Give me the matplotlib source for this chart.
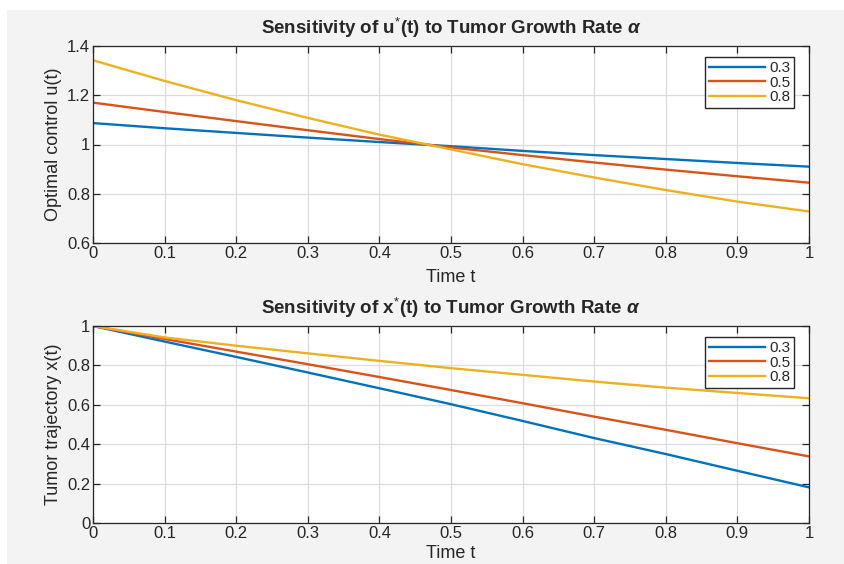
import matplotlib
matplotlib.use("Agg")
import matplotlib.pyplot as plt
from matplotlib.patches import Rectangle

t = [0.0, 0.1, 0.2, 0.3, 0.4, 0.5, 0.6, 0.7, 0.8, 0.9, 1.0]
alphas = ["0.3", "0.5", "0.8"]

u_03 = [1.087, 1.066, 1.047, 1.028, 1.010, 0.993, 0.974, 0.957, 0.941, 0.925, 0.910]
u_05 = [1.170, 1.132, 1.095, 1.058, 1.022, 0.988, 0.957, 0.927, 0.898, 0.871, 0.845]
u_08 = [1.342, 1.258, 1.180, 1.108, 1.040, 0.980, 0.920, 0.866, 0.815, 0.768, 0.728]

x_03 = [1.000, 0.921, 0.843, 0.764, 0.684, 0.603, 0.518, 0.431, 0.350, 0.265, 0.181]
x_05 = [1.000, 0.934, 0.870, 0.806, 0.741, 0.675, 0.608, 0.540, 0.473, 0.405, 0.338]
x_08 = [1.000, 0.942, 0.900, 0.861, 0.823, 0.786, 0.752, 0.718, 0.687, 0.660, 0.633]

colors = ["#0072BD", "#D95319", "#EDB120"]

plt.rcParams['font.family'] = ['Liberation Sans', 'DejaVu Sans']
plt.rcParams['mathtext.fontset'] = 'custom'
plt.rcParams['mathtext.rm'] = 'Liberation Sans'
plt.rcParams['mathtext.it'] = 'Liberation Sans:italic:bold'
plt.rcParams['mathtext.bf'] = 'Liberation Sans:bold'

W, H = 844, 564
fig = plt.figure(figsize=(W / 100, H / 100), dpi=100, facecolor="white")
fig.patches.append(Rectangle((7 / W, -0.01), 1, 1.01 - 10 / H, transform=fig.transFigure,
                             facecolor="#f3f3f3", edgecolor="none", zorder=-10))

dark = "#262626"
left, right = 93 / W, 809 / W
ax1 = fig.add_axes([left, 1 - 243 / H, right - left, (243 - 46) / H])
ax2 = fig.add_axes([left, 1 - 523 / H, right - left, (523 - 326) / H])

def style(ax):
    ax.set_facecolor("white")
    ax.set_xlim(0, 1)
    ax.set_xticks([0, 0.1, 0.2, 0.3, 0.4, 0.5, 0.6, 0.7, 0.8, 0.9, 1])
    ax.set_xticklabels(["0", "0.1", "0.2", "0.3", "0.4", "0.5", "0.6", "0.7", "0.8", "0.9", "1"])
    ax.grid(True, color="#dcdcdc", linewidth=0.9)
    ax.set_axisbelow(True)
    ax.tick_params(direction="in", top=True, right=True, length=5, width=0.9,
                   labelsize=12, colors=dark, pad=2)
    for s in ax.spines.values():
        s.set_color(dark)
        s.set_linewidth(0.9)

for ax, ys in ((ax1, (u_03, u_05, u_08)), (ax2, (x_03, x_05, x_08))):
    for y, c, lab in zip(ys, colors, alphas):
        ax.plot(t, y, color=c, linewidth=1.7, label=lab)
    style(ax)
    leg = ax.legend(loc="upper right", bbox_to_anchor=(0.979, 0.944), fontsize=11,
                    handlelength=3.7, handletextpad=0.25, borderpad=0.25,
                    labelspacing=0.05, fancybox=False, framealpha=1,
                    borderaxespad=0)
    leg.get_frame().set_edgecolor(dark)
    leg.get_frame().set_linewidth(1.0)
    for txt in leg.get_texts():
        txt.set_color(dark)

ax1.set_ylim(0.6, 1.4)
ax1.set_yticks([0.6, 0.8, 1.0, 1.2, 1.4])
ax1.set_yticklabels(["0.6", "0.8", "1", "1.2", "1.4"])
ax2.set_ylim(0, 1)
ax2.set_yticks([0, 0.2, 0.4, 0.6, 0.8, 1])
ax2.set_yticklabels(["0", "0.2", "0.4", "0.6", "0.8", "1"])

ax1.set_title(r"Sensitivity of u$^{*}$(t) to Tumor Growth Rate $\alpha$",
              fontsize=13.5, fontweight="bold", color=dark, pad=8.5)
ax2.set_title(r"Sensitivity of x$^{*}$(t) to Tumor Growth Rate $\alpha$",
              fontsize=13.5, fontweight="bold", color=dark, pad=8.5)
ax1.set_xlabel("Time t", fontsize=13, color=dark, labelpad=6)
ax2.set_xlabel("Time t", fontsize=13, color=dark, labelpad=3)
ax1.set_ylabel("Optimal control u(t)", fontsize=13, color=dark, labelpad=4)
ax2.set_ylabel("Tumor trajectory x(t)", fontsize=13, color=dark, labelpad=4)

fig.savefig("out.png", dpi=100, facecolor=fig.get_facecolor())
